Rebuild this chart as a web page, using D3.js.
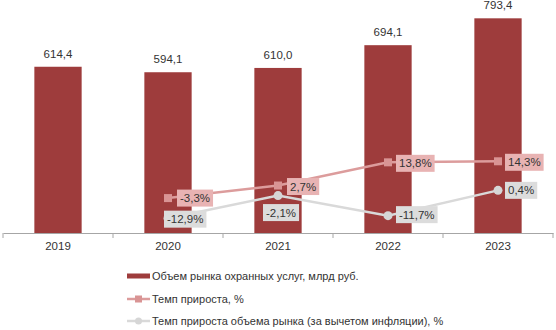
<!DOCTYPE html>
<html>
<head>
<meta charset="utf-8">
<script src="https://cdn.jsdelivr.net/npm/d3@7"></script>
<style>
  html, body { margin: 0; padding: 0; background: #fff; }
  svg { display: block; font-family: "Liberation Sans", Arial, sans-serif; }
</style>
</head>
<body>
<svg id="chart" width="556" height="330"></svg>
<script>
// Security services market, 2019–2023
const years = ["2019", "2020", "2021", "2022", "2023"];
const marketVolume = [614.4, 594.1, 610.0, 694.1, 793.4];          // млрд руб.
const growthRate = [null, -3.3, 2.7, 13.8, 14.3];                  // %
const realGrowthRate = [null, -12.9, -2.1, -11.7, 0.4];            // % (за вычетом инфляции)
const legendLabels = [
  "Объем рынка охранных услуг, млрд руб.",
  "Темп прироста, %",
  "Темп прироста объема рынка (за вычетом инфляции), %"
];

// Russian-style decimal comma, plain hyphen for negatives
const fmt = v => d3.format(".1f")(v).replace("\u2212", "-").replace(".", ",");

const colors = {
  bar: "#9e3c3c",
  pinkLine: "#dc9c9c",
  pinkMarker: "#d99494",
  pinkLabel: "#e8b3b3",
  greyLine: "#d9d9d9",
  greyMarker: "#d6d6d6",
  greyLabel: "#dcdcdc",
  axis: "#a6a6a6",
  text: "#333333"
};

const svg = d3.select("#chart");
const plot = { left: 3, right: 553, top: 3, bottom: 233 };

const x = d3.scaleBand().domain(years).range([plot.left, plot.right]).padding(0);
const yBar = d3.scaleLinear().domain([0, 850]).range([plot.bottom, plot.top]);
const yPct = d3.scaleLinear().domain([-20, 90]).range([plot.bottom, plot.top]);
const barW = x.bandwidth() * 0.43;
const cx = d => x(d) + x.bandwidth() / 2;

// Bars
svg.append("g").selectAll("rect")
  .data(years)
  .join("rect")
  .attr("x", (d) => cx(d) - barW / 2)
  .attr("y", (d, i) => yBar(marketVolume[i]))
  .attr("width", barW)
  .attr("height", (d, i) => yBar(0) - yBar(marketVolume[i]))
  .attr("fill", colors.bar);

// Bar value labels
svg.append("g").selectAll("text")
  .data(years)
  .join("text")
  .attr("x", d => cx(d))
  .attr("y", (d, i) => yBar(marketVolume[i]) - 9)
  .attr("text-anchor", "middle")
  .attr("font-size", 11.5)
  .attr("fill", colors.text)
  .text((d, i) => fmt(marketVolume[i]));

// Category axis
const axis = d3.axisBottom(x).tickSize(0).tickPadding(9);
const gAxis = svg.append("g").attr("transform", `translate(0,${plot.bottom})`).call(axis);
gAxis.select(".domain").attr("stroke", colors.axis);
gAxis.selectAll("text").attr("font-size", 11.5).attr("fill", colors.text)
  .attr("font-family", "Liberation Sans, Arial, sans-serif");
// boundary tick marks between categories
const bounds = years.map(d => x(d)).concat([plot.right]);
gAxis.selectAll("line.bound")
  .data(bounds)
  .join("line")
  .attr("class", "bound")
  .attr("x1", d => d).attr("x2", d => d)
  .attr("y1", 0).attr("y2", 5)
  .attr("stroke", colors.axis);

// Lines
function drawSeries(values, lineColor, markerColor, labelBg, shape, labelOffsets) {
  const pts = years.map((d, i) => ({ year: d, v: values[i], i })).filter(p => p.v !== null);
  const line = d3.line().x(p => cx(p.year)).y(p => yPct(p.v));
  const g = svg.append("g");
  g.append("path").datum(pts).attr("d", line)
    .attr("fill", "none").attr("stroke", lineColor).attr("stroke-width", 2.5);
  if (shape === "square") {
    g.selectAll("rect").data(pts).join("rect")
      .attr("x", p => cx(p.year) - 4).attr("y", p => yPct(p.v) - 4)
      .attr("width", 8).attr("height", 8).attr("fill", markerColor);
  } else {
    g.selectAll("circle").data(pts).join("circle")
      .attr("cx", p => cx(p.year)).attr("cy", p => yPct(p.v))
      .attr("r", 4.5).attr("fill", markerColor);
  }
  const labels = g.selectAll("g.lbl").data(pts).join("g").attr("class", "lbl")
    .attr("transform", p => {
      const o = labelOffsets[p.i];
      return `translate(${cx(p.year) + o[0]},${yPct(p.v) + o[1]})`;
    });
  labels.each(function (p) {
    const gl = d3.select(this);
    const t = gl.append("text")
      .attr("x", 3).attr("y", 0).attr("dy", "0.35em")
      .attr("font-size", 11.5).attr("fill", colors.text)
      .text(fmt(p.v) + "%");
    const w = t.node().getComputedTextLength();
    gl.insert("rect", "text")
      .attr("x", 0).attr("y", -8.5).attr("width", w + 6).attr("height", 17)
      .attr("fill", labelBg);
  });
}

drawSeries(growthRate, colors.pinkLine, colors.pinkMarker, colors.pinkLabel, "square",
  [null, [9, 0], [9, 1], [8, 1], [7, 1]]);
drawSeries(realGrowthRate, colors.greyLine, colors.greyMarker, colors.greyLabel, "circle",
  [null, [-4, 1], [-15, 17], [8, -1], [7, 0]]);

// Legend
const legend = svg.append("g").attr("transform", "translate(127,0)");
const rows = [276, 299, 321];
legend.append("rect").attr("x", 0).attr("y", rows[0] - 2.5).attr("width", 23).attr("height", 5)
  .attr("fill", colors.bar);
legend.append("line").attr("x1", 0).attr("x2", 23).attr("y1", rows[1]).attr("y2", rows[1])
  .attr("stroke", colors.pinkLine).attr("stroke-width", 2.5);
legend.append("rect").attr("x", 8).attr("y", rows[1] - 3.5).attr("width", 7).attr("height", 7)
  .attr("fill", colors.pinkMarker);
legend.append("line").attr("x1", 0).attr("x2", 23).attr("y1", rows[2]).attr("y2", rows[2])
  .attr("stroke", colors.greyLine).attr("stroke-width", 2.5);
legend.append("circle").attr("cx", 11.5).attr("cy", rows[2]).attr("r", 3.5)
  .attr("fill", colors.greyMarker);
legend.selectAll("text").data(legendLabels).join("text")
  .attr("x", 25).attr("y", (d, i) => rows[i]).attr("dy", "0.35em")
  .attr("font-size", 11).attr("fill", colors.text)
  .text(d => d);
</script>
</body>
</html>
